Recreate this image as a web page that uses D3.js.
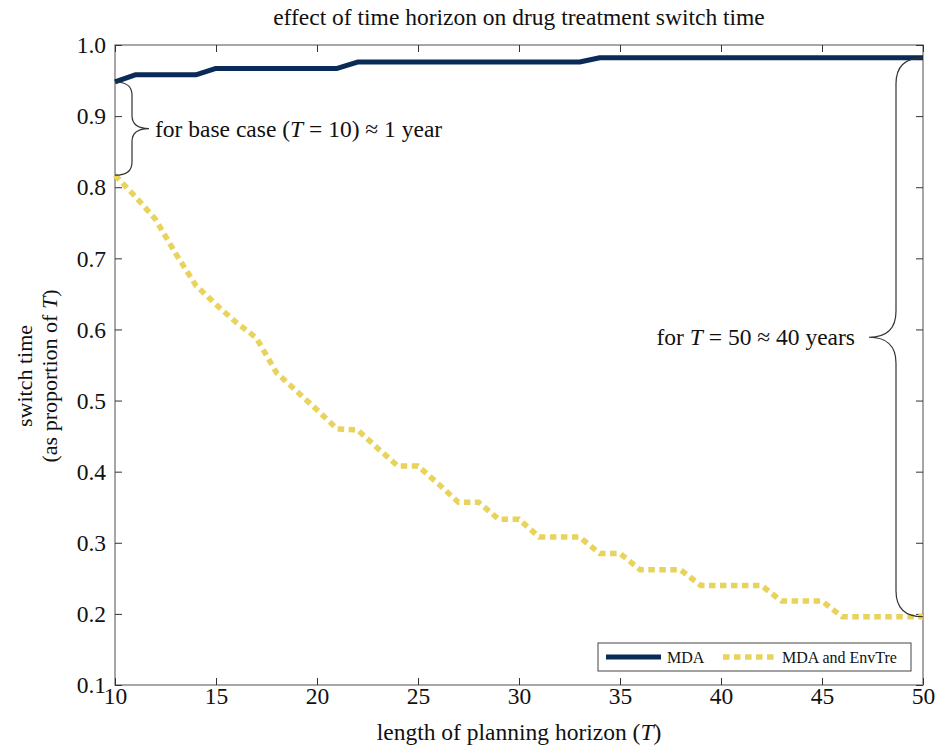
<!DOCTYPE html>
<html><head><meta charset="utf-8">
<script src="https://cdn.jsdelivr.net/npm/d3@7/dist/d3.min.js"></script>
<style>body{margin:0;background:#fff}svg{display:block}text{font-family:"Liberation Serif","Times New Roman",serif;fill:#111}</style>
</head><body>
<script>
const horizons = d3.range(10, 51);
const mda = [0.948,0.958,0.958,0.958,0.958,0.967,0.967,0.967,0.967,0.967,0.967,0.967,0.976,0.976,0.976,0.976,0.976,0.976,0.976,0.976,0.976,0.976,0.976,0.976,0.982,0.982,0.982,0.982,0.982,0.982,0.982,0.982,0.982,0.982,0.982,0.982,0.982,0.982,0.982,0.982,0.982];
const mdaEnv = [0.817,0.787,0.755,0.707,0.662,0.635,0.61,0.588,0.539,0.513,0.487,0.46,0.459,0.433,0.408,0.408,0.383,0.357,0.357,0.333,0.333,0.308,0.308,0.308,0.285,0.285,0.262,0.262,0.262,0.24,0.24,0.24,0.24,0.218,0.218,0.218,0.196,0.196,0.196,0.196,0.196];
const xTicks = [10,15,20,25,30,35,40,45,50];
const yTicks = [0.1,0.2,0.3,0.4,0.5,0.6,0.7,0.8,0.9,1.0];
const seriesNames = ["MDA","MDA and EnvTre"];

const W=936,H=747, L=115,R=923,T=45,B=685;
const svg=d3.select("body").append("svg").attr("width",W).attr("height",H);
const x=d3.scaleLinear().domain([10,50]).range([L,R]);
const y=d3.scaleLinear().domain([0.1,1.0]).range([B,T]);

svg.append("rect").attr("x",L).attr("y",T).attr("width",R-L).attr("height",B-T)
  .attr("fill","none").attr("stroke","#8a8a8a").attr("stroke-width",1.5);

const tk=7;
const gx=svg.append("g").attr("transform",`translate(0,${B})`)
  .call(d3.axisBottom(x).tickValues(xTicks).tickSize(-tk).tickPadding(tk+10).tickFormat(d3.format("d")));
const gxt=svg.append("g").attr("transform",`translate(0,${T})`)
  .call(d3.axisTop(x).tickValues(xTicks).tickSize(-tk).tickFormat(""));
const gy=svg.append("g").attr("transform",`translate(${L},0)`)
  .call(d3.axisLeft(y).tickValues(yTicks).tickSize(-tk).tickPadding(tk+2).tickFormat(d3.format(".1f")));
const gyr=svg.append("g").attr("transform",`translate(${R},0)`)
  .call(d3.axisRight(y).tickValues(yTicks).tickSize(-tk).tickFormat(""));
[gx,gxt,gy,gyr].forEach(g=>{
  g.select(".domain").remove();
  g.selectAll(".tick line").attr("stroke","#333").attr("stroke-width",1);
  g.selectAll("text").attr("font-size",23.5).attr("fill","#111").attr("font-family","Liberation Serif");
});
gx.selectAll("text").attr("dy","0.1em");
gy.selectAll("text").attr("dy","0.33em");

const line=d3.line().x((d,i)=>x(horizons[i])).y(d=>y(d));
svg.append("path").datum(mdaEnv).attr("d",line).attr("fill","none")
  .attr("stroke","#e8d35c").attr("stroke-width",5.5).attr("stroke-dasharray","6.5,4.5");
svg.append("path").datum(mda).attr("d",line).attr("fill","none")
  .attr("stroke","#0a2a57").attr("stroke-width",5).attr("stroke-linejoin","round");

function brace(x0,y0,y1,w,r){
  const s=Math.sign(w), aw=Math.abs(w);
  const xm=x0+s*aw*0.5, xt=x0+s*aw, ym=(y0+y1)/2;
  return `M${x0},${y0} Q${xm},${y0} ${xm},${y0+r} L${xm},${ym-r} Q${xm},${ym} ${xt},${ym} Q${xm},${ym} ${xm},${ym+r} L${xm},${y1-r} Q${xm},${y1} ${x0},${y1}`;
}
const b1y0=y(mda[0]), b1y1=y(mdaEnv[0]);
svg.append("path").attr("d",brace(x(10),b1y0,b1y1,34,13)).attr("fill","none").attr("stroke","#333").attr("stroke-width",1.2);
svg.append("text").attr("x",x(10)+40).attr("y",(b1y0+b1y1)/2+8).attr("font-size",23.5)
  .html('for base case (<tspan font-style="italic">T</tspan> = 10) ≈ 1 year');
const n=mda.length-1;
const b2y0=y(mda[n]), b2y1=y(mdaEnv[n]);
svg.append("path").attr("d",brace(x(50),b2y0,b2y1,-54,26)).attr("fill","none").attr("stroke","#333").attr("stroke-width",1.2);
svg.append("text").attr("x",x(50)-68).attr("y",(b2y0+b2y1)/2+8).attr("font-size",23.5).attr("text-anchor","end")
  .html('for <tspan font-style="italic">T</tspan> = 50 ≈ 40 years');

svg.append("text").attr("x",519).attr("y",25).attr("text-anchor","middle").attr("font-size",23.5)
  .text("effect of time horizon on drug treatment switch time");
svg.append("text").attr("x",(L+R)/2).attr("y",740).attr("text-anchor","middle").attr("font-size",23.5)
  .html('length of planning horizon (<tspan font-style="italic">T</tspan>)');
const yl=svg.append("text").attr("transform",`translate(0,376) rotate(-90)`).attr("text-anchor","middle").attr("font-size",22);
yl.append("tspan").attr("x",0).attr("y",32).text("switch time");
yl.append("tspan").attr("x",0).attr("y",57).html('(as proportion of <tspan font-style="italic">T</tspan>)');

const lg=svg.append("g");
lg.append("rect").attr("x",598).attr("y",643).attr("width",313).attr("height",28)
  .attr("fill","#fff").attr("stroke","#444").attr("stroke-width",1);
lg.append("line").attr("x1",606).attr("x2",661).attr("y1",657).attr("y2",657).attr("stroke","#0a2a57").attr("stroke-width",5);
lg.append("text").attr("x",667).attr("y",662.5).attr("font-size",16).text(seriesNames[0]);
lg.append("line").attr("x1",723).attr("x2",774).attr("y1",657).attr("y2",657).attr("stroke","#e8d35c").attr("stroke-width",5.5).attr("stroke-dasharray","6.5,4.5");
lg.append("text").attr("x",782).attr("y",662.5).attr("font-size",16).text(seriesNames[1]);
</script>
</body></html>
